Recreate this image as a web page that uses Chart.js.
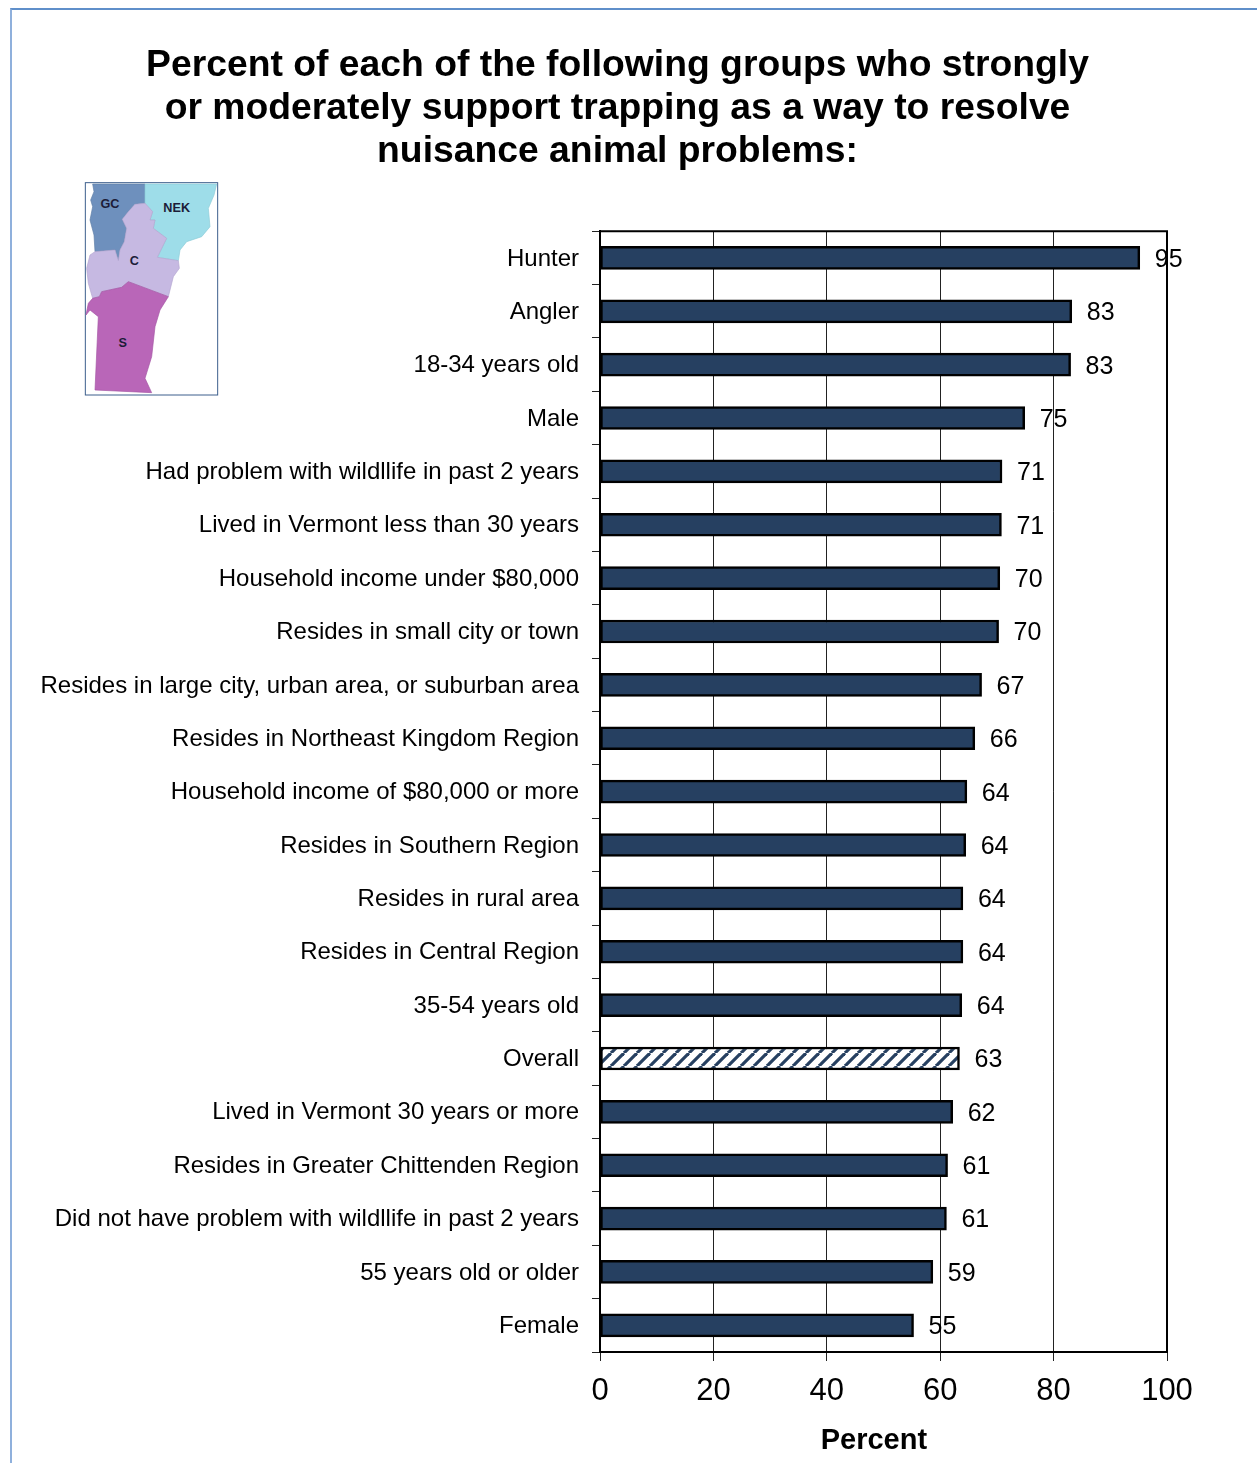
<!DOCTYPE html>
<html>
<head>
<meta charset="utf-8">
<title>Trapping support</title>
<script src="https://cdn.jsdelivr.net/npm/chart.js@4"></script>
<style>
  html, body { margin: 0; padding: 0; background: #fff; overflow: hidden; }
  #frame { position: absolute; left: 10px; top: 8px; width: 1300px; height: 1500px; border-left: 2px solid #8fb0dc; border-top: 2px solid #5f8fca; }
  #grafiek { position: absolute; left: 0; top: 0; }
  #kaart { position: absolute; left: 70px; top: 170px; }
  #kaart text { font: bold 38px "Liberation Sans", Arial, sans-serif; fill: #1c1c38; text-anchor: middle; }
  #kaart polygon { stroke-width: 2; stroke-linejoin: round; }
</style>
</head>
<body>
<div id="frame"></div>
<canvas id="grafiek" width="1257" height="1463"></canvas>

<!-- kaartje van de regio's -->
<svg id="kaart" width="160" height="240" viewBox="0 0 480 720">
  <rect x="46" y="38" width="397" height="637" fill="#fff" stroke="#3d5f8c" stroke-width="3"/>
  <polygon fill="#6e90bd" stroke="#5f7fa8" points="68,42 225,42 228,100 195,103 175,125 157,148 170,175 163,215 150,240 145,272 135,240 75,245 72,195 60,150 68,110 62,90 72,65"/>
  <polygon fill="#9edde9" stroke="#8ccbd8" points="225,42 440,42 432,75 415,115 420,170 395,200 350,215 330,240 325,272 262,262 290,205 250,175 255,150 240,150 248,125 225,100"/>
  <polygon fill="#c6b9e2" stroke="#b3a6d0" points="195,103 225,100 248,125 240,150 255,150 250,175 290,205 262,262 325,272 328,295 310,320 295,380 175,335 155,352 95,365 88,380 68,385 55,340 50,295 60,255 75,245 135,240 145,272 150,240 163,215 170,175 157,148 175,125"/>
  <polygon fill="#b966b8" stroke="#a556a4" points="68,385 88,380 95,365 155,352 175,335 295,380 270,420 255,470 245,560 225,625 245,668 75,660 85,440 60,420 48,435 55,400"/>
  <text x="120" y="115">GC</text>
  <text x="320" y="125">NEK</text>
  <text x="193" y="285">C</text>
  <text x="158" y="532">S</text>
</svg>

<script>
var titel = [
  'Percent of each of the following groups who strongly',
  'or moderately support trapping as a way to resolve',
  'nuisance animal problems:'
];
var groepen = [
  'Hunter', 'Angler', '18-34 years old', 'Male',
  'Had problem with wildllife in past 2 years',
  'Lived in Vermont less than 30 years',
  'Household income under $80,000',
  'Resides in small city or town',
  'Resides in large city, urban area, or suburban area',
  'Resides in Northeast Kingdom Region',
  'Household income of $80,000 or more',
  'Resides in Southern Region',
  'Resides in rural area',
  'Resides in Central Region',
  '35-54 years old',
  'Overall',
  'Lived in Vermont 30 years or more',
  'Resides in Greater Chittenden Region',
  'Did not have problem with wildllife in past 2 years',
  '55 years old or older',
  'Female'
];
var waarden = [95.2, 83.2, 83.0, 74.9, 70.9, 70.8, 70.5, 70.3, 67.3, 66.1, 64.7, 64.5, 64.0, 64.0, 63.8, 63.4, 62.2, 61.3, 61.1, 58.7, 55.3];
var waardeLabels = ['95', '83', '83', '75', '71', '71', '70', '70', '67', '66', '64', '64', '64', '64', '64', '63', '62', '61', '61', '59', '55'];
var asTicks = [0, 20, 40, 60, 80, 100];
var asTitel = 'Percent';

var FONT = '"Liberation Sans", Arial, sans-serif';
var BALK = '#264061';

// arcering voor de balk "Overall"
function arcering() {
  var p = 13;
  var c = document.createElement('canvas');
  c.width = p;
  c.height = p;
  var x = c.getContext('2d');
  x.fillStyle = '#fff';
  x.fillRect(0, 0, p, p);
  x.strokeStyle = BALK;
  x.lineWidth = 3.2;
  [-p, 0, p].forEach(function(d) {
    x.beginPath();
    x.moveTo(d, p);
    x.lineTo(d + p, 0);
    x.stroke();
  });
  return x.createPattern(c, 'repeat');
}

// waarden naast de balken, kader en astitel
var extras = {
  id: 'extras',
  // labels van de y-as mogen links buiten de padding vallen
  afterLayout: function(chart) {
    chart.scales.y.left = 0;
  },
  afterDatasetsDraw: function(chart) {
    var ctx = chart.ctx;
    var a = chart.chartArea;
    var xs = chart.scales.x;
    var ys = chart.scales.y;
    ctx.save();
    ctx.fillStyle = '#000';
    ctx.font = '25px ' + FONT;
    ctx.textAlign = 'left';
    ctx.textBaseline = 'middle';
    waarden.forEach(function(v, i) {
      ctx.fillText(waardeLabels[i], xs.getPixelForValue(v) + 15, ys.getPixelForValue(i) + 2);
    });
    ctx.strokeStyle = '#000';
    ctx.lineWidth = 2;
    ctx.strokeRect(a.left, a.top, a.right - a.left, a.bottom - a.top);
    ctx.font = 'bold 29px ' + FONT;
    ctx.textAlign = 'center';
    ctx.fillText(asTitel, xs.getPixelForValue(48.3), 1441);
    ctx.restore();
  }
};

window.onload = function() {
  var ctx = document.getElementById('grafiek');
  var myChart = new Chart(ctx, {
    type: 'bar',
    plugins: [extras],
    data: {
      labels: groepen,
      datasets: [{
        data: waarden,
        backgroundColor: groepen.map(function(g) { return g === 'Overall' ? arcering() : BALK; }),
        borderColor: '#000',
        borderWidth: 2.5,
        borderSkipped: false,
        barThickness: 23
      }]
    },
    options: {
      indexAxis: 'y',
      responsive: false,
      animation: false,
      layout: { padding: { left: 68, top: 0, right: 90, bottom: 0 } },
      scales: {
        x: {
          min: 0,
          max: 100,
          afterBuildTicks: function(s) { s.ticks = asTicks.map(function(v) { return { value: v }; }); },
          afterFit: function(s) { s.height = 111; },
          ticks: { color: '#000', font: { size: 31, family: FONT }, padding: 12, maxRotation: 0 },
          grid: { color: '#222', lineWidth: 1, tickLength: 9 },
          border: { color: '#000', width: 2 }
        },
        y: {
          afterFit: function(s) { s.width = 532; },
          ticks: { color: '#000', font: { size: 24, family: FONT }, padding: 13, autoSkip: false, labelOffset: 1 },
          grid: { offset: true, drawOnChartArea: false, color: '#222', lineWidth: 1, tickLength: 8 },
          border: { color: '#000', width: 2 }
        }
      },
      plugins: {
        legend: { display: false },
        tooltip: { enabled: false },
        title: {
          display: true,
          text: titel,
          color: '#000',
          font: { size: 37.3, weight: 'bold', family: FONT, lineHeight: 1.155 },
          padding: { top: 44, bottom: 58 }
        }
      }
    }
  });
};
</script>
</body>
</html>
